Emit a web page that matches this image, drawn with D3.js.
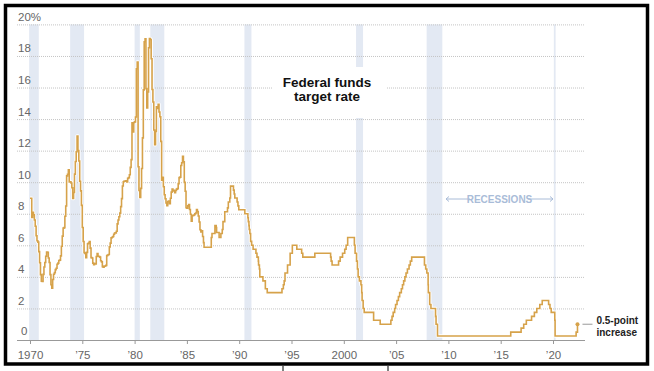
<!DOCTYPE html>
<html>
<head>
<meta charset="utf-8">
<script src="https://cdn.jsdelivr.net/npm/d3@7"></script>
<style>
  body { margin: 0; background: #fff; }
  svg { display: block; font-family: "Liberation Sans Narrow", "Arial Narrow", "Liberation Sans", sans-serif; }
</style>
</head>
<body>
<div id="container"></div>
<script>
const width = 654;
const height = 371;

// monthly rate, one row per year starting 1970 (ends mid-1986)
const monthlyStartYear = 1970;
const monthlyRates = [
  [8.98, 8.98, 7.76, 8.10, 7.94, 7.60, 7.21, 6.61, 6.29, 6.20, 5.60, 4.90],
  [4.14, 3.72, 3.71, 4.16, 4.63, 4.91, 5.31, 5.57, 5.55, 5.20, 4.91, 4.14],
  [3.50, 3.29, 3.83, 4.17, 4.27, 4.46, 4.55, 4.80, 4.87, 5.04, 5.06, 5.33],
  [5.94, 6.58, 7.09, 7.12, 7.84, 8.49, 10.40, 10.50, 10.78, 10.01, 10.03, 9.95],
  [9.65, 8.97, 9.35, 10.51, 11.31, 11.93, 12.92, 12.01, 11.34, 10.06, 9.45, 8.53],
  [7.13, 6.24, 5.54, 5.49, 5.22, 5.55, 6.10, 6.14, 6.24, 5.82, 5.22, 5.20],
  [4.87, 4.77, 4.84, 4.82, 5.29, 5.48, 5.31, 5.29, 5.25, 5.02, 4.95, 4.65],
  [4.61, 4.68, 4.69, 4.73, 5.35, 5.39, 5.42, 5.90, 6.14, 6.47, 6.51, 6.56],
  [6.70, 6.78, 6.79, 6.89, 7.36, 7.60, 7.81, 8.04, 8.45, 8.96, 9.76, 10.03],
  [10.07, 10.06, 10.09, 10.01, 10.24, 10.29, 10.47, 10.94, 11.43, 13.77, 13.18, 13.78],
  [13.82, 14.13, 17.19, 17.61, 10.98, 9.47, 9.03, 9.61, 10.87, 12.81, 15.85, 18.90],
  [19.08, 15.93, 14.70, 15.72, 18.52, 19.10, 19.04, 17.82, 15.87, 15.08, 13.31, 12.37],
  [13.22, 14.78, 14.68, 14.94, 14.45, 14.15, 12.59, 10.12, 10.31, 9.71, 9.20, 8.95],
  [8.68, 8.51, 8.77, 8.80, 8.63, 8.98, 9.37, 9.56, 9.45, 9.48, 9.34, 9.47],
  [9.56, 9.59, 9.91, 10.29, 10.32, 11.06, 11.23, 11.64, 11.30, 9.99, 9.43, 8.38],
  [8.35, 8.50, 8.58, 8.27, 7.97, 7.53, 7.88, 7.90, 7.92, 7.99, 8.05, 8.27],
  [8.14, 7.86, 7.48, 6.99, 6.85, 6.92, 6.56, 6.17]
];

// target rate changes after that: [year, rate]
const targetChanges = [
  [1986.64, 5.875], [1987.33, 6.5], [1987.40, 6.75], [1987.68, 7.25], [1987.80, 7.125],
  [1987.84, 6.8125], [1988.08, 6.5], [1988.25, 6.75], [1988.38, 7.0], [1988.45, 7.5],
  [1988.62, 8.125], [1988.88, 8.375], [1988.96, 8.75], [1989.10, 9.0], [1989.17, 9.75],
  [1989.45, 9.5], [1989.52, 9.25], [1989.58, 9.0], [1989.80, 8.75], [1989.88, 8.5],
  [1989.96, 8.25], [1990.54, 8.0], [1990.83, 7.75], [1990.87, 7.5], [1990.93, 7.25],
  [1990.96, 7.0], [1991.02, 6.75], [1991.09, 6.25], [1991.19, 6.0], [1991.33, 5.75],
  [1991.60, 5.5], [1991.70, 5.25], [1991.83, 5.0], [1991.85, 4.75], [1991.93, 4.5],
  [1991.97, 4.0], [1992.27, 3.75], [1992.50, 3.25], [1992.68, 3.0], [1994.09, 3.25],
  [1994.22, 3.5], [1994.30, 3.75], [1994.38, 4.25], [1994.62, 4.75], [1994.87, 5.5],
  [1995.08, 6.0], [1995.51, 5.75], [1995.97, 5.5], [1996.08, 5.25], [1997.23, 5.5],
  [1998.74, 5.25], [1998.79, 5.0], [1998.88, 4.75], [1999.50, 5.0], [1999.65, 5.25],
  [1999.88, 5.5], [2000.09, 5.75], [2000.22, 6.0], [2000.37, 6.5], [2001.01, 6.0],
  [2001.08, 5.5], [2001.22, 5.0], [2001.30, 4.5], [2001.37, 4.0], [2001.49, 3.75],
  [2001.64, 3.5], [2001.71, 3.0], [2001.75, 2.5], [2001.85, 2.0], [2001.95, 1.75],
  [2002.85, 1.25], [2003.48, 1.0], [2004.50, 1.25], [2004.61, 1.5], [2004.72, 1.75],
  [2004.86, 2.0], [2004.95, 2.25], [2005.09, 2.5], [2005.22, 2.75], [2005.34, 3.0],
  [2005.50, 3.25], [2005.61, 3.5], [2005.72, 3.75], [2005.84, 4.0], [2005.95, 4.25],
  [2006.08, 4.5], [2006.24, 4.75], [2006.36, 5.0], [2006.49, 5.25], [2007.71, 4.75],
  [2007.83, 4.5], [2007.94, 4.25], [2008.06, 3.5], [2008.08, 3.0], [2008.21, 2.25],
  [2008.33, 2.0], [2008.77, 1.5], [2008.82, 1.0], [2008.96, 0.25], [2015.96, 0.5],
  [2016.95, 0.75], [2017.20, 1.0], [2017.45, 1.25], [2017.95, 1.5], [2018.22, 1.75],
  [2018.45, 2.0], [2018.74, 2.25], [2018.97, 2.5], [2019.58, 2.25], [2019.71, 2.0],
  [2019.83, 1.75], [2020.17, 1.25], [2020.20, 0.25], [2022.21, 0.5], [2022.34, 1.0]
];

// recessions: start and end as decimal years
const recessionStarts = [1969.92, 1973.84, 1980.0, 1981.5, 1990.5, 2001.17, 2007.92, 2020.08];
const recessionEnds = [1970.84, 1975.17, 1980.5, 1982.84, 1991.17, 2001.84, 2009.42, 2020.25];

const xTicks = [1970, 1975, 1980, 1985, 1990, 1995, 2000, 2005, 2010, 2015, 2020];
const xTickLabels = ["1970", "’75", "’80", "’85", "’90", "’95", "2000", "’05", "’10", "’15", "’20"];
const yTicks = [0, 2, 4, 6, 8, 10, 12, 14, 16, 18, 20];

// build the series
let series = [];
monthlyRates.forEach((row, i) => {
  row.forEach((v, m) => series.push([monthlyStartYear + i + m / 12, v]));
});
targetChanges.forEach((d) => series.push(d));

const svg = d3
  .select("#container")
  .append("svg")
  .attr("width", width)
  .attr("height", height);

const x = d3.scaleLinear().domain([1970, 2020]).range([30, 553]);
const y = d3.scaleLinear().domain([0, 20]).range([340, 24.4]);
const plotLeft = 17;
const plotRight = 585;

// recession bands
svg
  .append("g")
  .selectAll("rect")
  .data(recessionStarts)
  .enter()
  .append("rect")
  .attr("x", (d) => x(d))
  .attr("width", (d, i) => x(recessionEnds[i]) - x(d))
  .attr("y", y(20))
  .attr("height", y(0) - y(20))
  .attr("fill", "#e3e9f3");

// gridlines + y labels
const yAxis = svg
  .append("g")
  .attr("transform", `translate(${plotLeft},0)`)
  .call(
    d3.axisRight(y)
      .tickValues(yTicks.slice(1))
      .tickSize(plotRight - plotLeft)
      .tickFormat((d) => (d == 20 ? "20%" : d))
  );
yAxis.select(".domain").remove();
yAxis.selectAll("line")
  .attr("stroke", "#c4c4c4")
  .attr("stroke-dasharray", "1,1");
yAxis.selectAll("text")
  .attr("x", 1)
  .attr("dy", null)
  .attr("y", -4)
  .attr("fill", "#666")
  .attr("font-size", 11.5)
  .attr("text-anchor", "start");
svg.append("text")
  .attr("x", plotLeft + 4)
  .attr("y", y(0) - 5)
  .attr("fill", "#666")
  .attr("font-size", 11.5)
  .text("0");

// annotation box, hides grid and band
svg.append("rect")
  .attr("x", 273)
  .attr("y", 67)
  .attr("width", 114)
  .attr("height", 51)
  .attr("fill", "#fff");
svg.append("text")
  .attr("x", 327)
  .attr("y", 87)
  .attr("text-anchor", "middle")
  .attr("font-weight", "bold")
  .attr("font-size", 13.5)
  .attr("fill", "#111")
  .selectAll("tspan")
  .data(["Federal funds", "target rate"])
  .enter()
  .append("tspan")
  .attr("x", 327)
  .attr("dy", (d, i) => (i ? 14 : 0))
  .text((d) => d);

// x axis
const xAxis = svg
  .append("g")
  .attr("transform", `translate(0,${y(0)})`)
  .call(
    d3.axisBottom(x)
      .tickValues(xTicks)
      .tickSize(4)
      .tickFormat((d, i) => xTickLabels[i])
  );
xAxis.select(".domain").attr("d", `M${plotLeft},0.5H${plotRight}`).attr("stroke", "#999");
xAxis.selectAll("line").attr("stroke", "#999");
xAxis.selectAll("text")
  .attr("y", 11)
  .attr("dy", "0.71em")
  .attr("fill", "#666")
  .attr("font-size", 11.5);

// rate line with white halo
const line = d3
  .line()
  .x((d) => x(d[0]))
  .y((d) => y(d[1]))
  .curve(d3.curveStepAfter);
svg.append("path")
  .datum(series)
  .attr("d", line)
  .attr("fill", "none")
  .attr("stroke", "#fff")
  .attr("stroke-width", 3.5)
  .attr("stroke-linejoin", "round");
svg.append("path")
  .datum(series)
  .attr("d", line)
  .attr("fill", "none")
  .attr("stroke", "#d6a24a")
  .attr("stroke-width", 1.6);

const last = series[series.length - 1];
svg.append("circle")
  .attr("cx", x(last[0]))
  .attr("cy", y(last[1]))
  .attr("r", 2)
  .attr("fill", "#d6a24a");
svg.append("line")
  .attr("x1", x(last[0]) + 5)
  .attr("x2", x(last[0]) + 15)
  .attr("y1", y(last[1]))
  .attr("y2", y(last[1]))
  .attr("stroke", "#999");
svg.append("text")
  .attr("font-weight", "bold")
  .attr("font-size", 10)
  .attr("fill", "#222")
  .selectAll("tspan")
  .data(["0.5-point", "increase"])
  .enter()
  .append("tspan")
  .attr("x", x(last[0]) + 19)
  .attr("y", (d, i) => y(last[1]) + i * 11.5)
  .text((d) => d);

// recessions label
const recY = 199;
const recColor = "#a9bcd8";
svg.append("text")
  .attr("x", 499.5)
  .attr("y", recY + 3.5)
  .attr("text-anchor", "middle")
  .attr("font-weight", "bold")
  .attr("font-size", 10)
  .attr("fill", recColor)
  .text("RECESSIONS");
[[470, 446], [528, 553]].forEach(([a, b]) => {
  const dir = b > a ? -1 : 1;
  svg.append("line")
    .attr("x1", a).attr("x2", b)
    .attr("y1", recY).attr("y2", recY)
    .attr("stroke", recColor);
  svg.append("path")
    .attr("d", `M${b + dir * 3},${recY - 2.5}L${b},${recY}L${b + dir * 3},${recY + 2.5}`)
    .attr("fill", "none")
    .attr("stroke", recColor);
});

// frame
svg.append("rect")
  .attr("x", 5.5)
  .attr("y", 5.5)
  .attr("width", 642)
  .attr("height", 358.5)
  .attr("fill", "none")
  .attr("stroke", "#000")
  .attr("stroke-width", 3.5);
[283, 388].forEach((px) => {
  svg.append("line")
    .attr("x1", px).attr("x2", px)
    .attr("y1", 366).attr("y2", 371)
    .attr("stroke", "#000");
});
</script>
</body>
</html>
